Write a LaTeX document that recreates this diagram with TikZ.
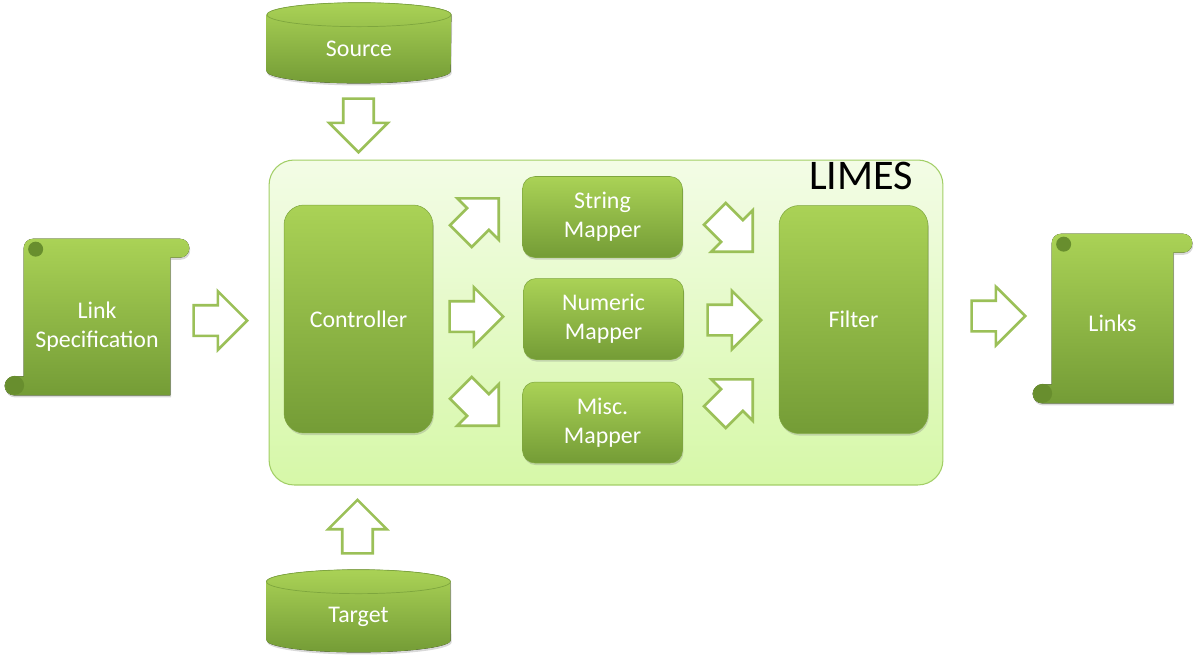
\documentclass[tikz,border=0pt]{standalone}
\usepackage{fontspec}
\setmainfont{Carlito}
\usepackage{tikz}
\usetikzlibrary{positioning,calc,shapes.arrows,shadows}

\definecolor{nodetop}{RGB}{170,210,86}
\definecolor{nodebot}{RGB}{116,156,54}
\definecolor{nodeedge}{RGB}{126,166,62}
\definecolor{curl}{RGB}{104,142,46}
\definecolor{arrowline}{RGB}{155,192,88}
\definecolor{boxtop}{RGB}{243,252,230}
\definecolor{boxbot}{RGB}{214,248,168}
\definecolor{boxline}{RGB}{162,206,102}

\tikzset{
  softshadow/.style={drop shadow={shadow xshift=0.5pt, shadow yshift=-1.2pt, opacity=0.3}},
  block/.style={rounded corners=0.4cm, top color=nodetop, bottom color=nodebot,
    draw=nodeedge, line width=0.3pt, text=white, align=center, softshadow,
    font=\fontsize{13.6}{16.4}\selectfont},
  mapper/.style={block, rounded corners=0.25cm, minimum width=3.2cm, minimum height=1.62cm},
  bigblock/.style={block, minimum width=2.98cm, minimum height=4.56cm},
  container/.style={rounded corners=0.5cm, top color=boxtop, bottom color=boxbot,
    draw=boxline, line width=0.6pt, minimum width=13.48cm, minimum height=6.5cm},
  blockarrow/.style={single arrow, draw=arrowline, line width=1.5pt, fill=white,
    minimum height=1.07cm, minimum width=1.12cm, inner xsep=0pt, inner ysep=0.28cm,
    single arrow head extend=0.28cm, anchor=tip},
  scrolltext/.style={text=white, align=center, inner sep=0pt,
    font=\fontsize{13.6}{16.4}\selectfont},
}

% scroll round a node (the node is the body below the top roll)
\newcommand{\drawscroll}[1]{%
  \fill[top color=nodetop, bottom color=nodebot, softshadow]
    ($(#1.north west)+(0,-9.5)$) rectangle (#1.south east)
    [rounded corners=0.19cm]
    ($(#1.north west)+(0,-19)$) rectangle ($(#1.north east)+(19,0)$)
    ($(#1.south west)+(-19,-19)$) rectangle ($(#1.south west)+(19,0)$);
  \fill[curl] ($(#1.north west)+(12,-8.5)$) circle (0.15cm);
  \fill[curl] ($(#1.south west)+(-9,-10)$) circle (0.19cm);
}
% disk round a node (the node is the front face)
\newcommand{\drawdisk}[1]{%
  \fill[top color=nodetop, bottom color=nodebot, softshadow]
    ($(#1.north west)+(0,-12)$) -- (#1.south west)
    arc[start angle=180, end angle=0, x radius=92, y radius=12]
    -- ($(#1.north east)+(0,-12)$)
    arc[start angle=0, end angle=-180, x radius=92, y radius=12] -- cycle;
  \draw[nodeedge, line width=0.4pt] ($(#1.north)+(0,-12)$) ellipse[x radius=92, y radius=12];
}

\begin{document}
\begin{tikzpicture}[x=0.02cm, y=-0.02cm]
    \useasboundingbox (0,0) rectangle (1198,660);
    %%%%% THE LIMES BOX
    \node[container] (LIMES) at (606,322.5) {};
    \node[anchor=base east, inner sep=0pt, font=\fontsize{24}{28}\selectfont]
      (LIMESNAME) at ($(LIMES.north east)+(-30,30)$) {LIMES};
    \node[bigblock] (CTRL) at (358.5,319) {Controller};
    \node[mapper] (STRMAP) at (602.5,217) {String\\Mapper};
    \node[mapper] (NUMMAP) at (603.5,319) {Numeric\\Mapper};
    \node[mapper] (MISCMAP) at (602.5,422.5) {Misc.\\Mapper};
    \node[bigblock] (FILTER) at (853.5,319.5) {Filter};
    %%%%% THE INPUTS AND OUTPUT
    \node[minimum width=2.92cm, minimum height=2.74cm] (SPEC) at (97,326.5) {};
    \drawscroll{SPEC}
    \node[scrolltext] at (SPEC) {Link\\Specification};
    \node[minimum width=2.42cm, minimum height=3cm] (LINKS) at (1112.5,328) {};
    \drawscroll{LINKS}
    \node[scrolltext] at ($(LINKS)+(0,-5)$) {Links};
    \node[minimum width=3.68cm, minimum height=0.88cm, inner sep=0pt] (SRC) at (359,49) {};
    \drawdisk{SRC}
    \node[scrolltext] at (SRC) {Source};
    \node[minimum width=3.66cm, minimum height=0.92cm, inner sep=0pt] (TGT) at (358.5,617) {};
    \drawdisk{TGT}
    \node[scrolltext] at (TGT) {Target};
    %%%%% THE BLOCK ARROWS (placed by their tips)
    \node[blockarrow] (ASPEC) at (249,320.5) {};
    \node[blockarrow, rotate=-90] (ASRC) at (358.5,154) {};
    \node[blockarrow, rotate=90] (ATGT) at (357.5,498) {};
    \node[blockarrow, rotate=45] (ASTR) at (500,197) {};
    \node[blockarrow] (ANUM) at (505,316.5) {};
    \node[blockarrow, rotate=-45] (AMISC) at (500,427) {};
    \node[blockarrow, rotate=-45] (BSTR) at (754,253) {};
    \node[blockarrow] (BNUM) at (763,320) {};
    \node[blockarrow, rotate=45] (BMISC) at (754,378) {};
    \node[blockarrow] (AOUT) at (1027,316) {};
\end{tikzpicture}
\end{document}
